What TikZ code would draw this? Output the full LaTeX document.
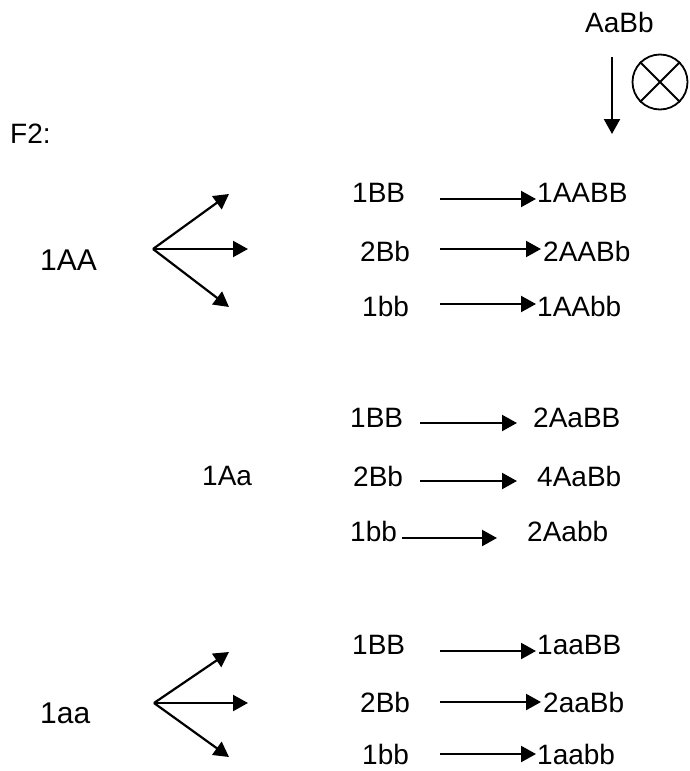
\documentclass[tikz,border=0pt]{standalone}
\usepackage{fontspec}
\setmainfont{Liberation Sans}
\usetikzlibrary{arrows.meta}
\begin{document}
\begin{tikzpicture}[x=1pt,y=-1pt,
  lbl/.style={inner sep=0pt,anchor=west,font=\fontsize{28}{32}\selectfont},
  thinlbl/.style={inner sep=0pt,anchor=base west,font=\fontsize{30}{34}\selectfont},
  arr/.style={line width=2.2pt,-{Triangle[length=15pt,width=16pt]}}]
\useasboundingbox (0,0) rectangle (689,771);

% header
\node[lbl] (aabb) at (585,22.5) {AaBb};
\coordinate (vtop) at (612,57);
\coordinate (vbot) at (612,134);
\draw[arr] (vtop) -- (vbot);
\node[circle,draw,line width=1.8pt,minimum size=55pt,inner sep=0pt] (cross) at (660,82) {};
\draw[line width=1.8pt] (cross.north west) -- (cross.south east)
  (cross.north east) -- (cross.south west);
\node[lbl] (f2) at (10,134) {F2:};

% ---- 1AA ----
\node[thinlbl] (AA) at (40,270) {1AA};
\coordinate (o1) at (153,249);
\coordinate (o1u) at (229,194);
\coordinate (o1m) at (248,249);
\coordinate (o1d) at (229,307);
\draw[arr] (o1) -- (o1u);
\draw[arr] (o1) -- (o1m);
\draw[arr] (o1) -- (o1d);

\node[lbl] (a1) at (352,192.5) {1BB};
\node[lbl] (a2) at (360,251) {2Bb};
\node[lbl] (a3) at (362,306) {1bb};
\node[lbl] (b1) at (537,192.5) {1AABB};
\node[lbl] (b2) at (543,251) {2AABb};
\node[lbl] (b3) at (537,306) {1AAbb};
\coordinate (as1) at (440,199); \coordinate (ae1) at (536,199);
\coordinate (as2) at (440,249); \coordinate (ae2) at (541,249);
\coordinate (as3) at (440,304); \coordinate (ae3) at (536,304);
\draw[arr] (as1) -- (ae1);
\draw[arr] (as2) -- (ae2);
\draw[arr] (as3) -- (ae3);

% ---- 1Aa ----
\node[lbl] (Aa) at (202,476) {1Aa};
\node[lbl] (c1) at (350,418) {1BB};
\node[lbl] (c2) at (353,476) {2Bb};
\node[lbl] (c3) at (350,531) {1bb};
\node[lbl] (d1) at (533,418) {2AaBB};
\node[lbl] (d2) at (537,476) {4AaBb};
\node[lbl] (d3) at (527,531) {2Aabb};
\coordinate (cs1) at (420,423); \coordinate (ce1) at (517,423);
\coordinate (cs2) at (420,481); \coordinate (ce2) at (517,481);
\coordinate (cs3) at (402,538); \coordinate (ce3) at (497,538);
\draw[arr] (cs1) -- (ce1);
\draw[arr] (cs2) -- (ce2);
\draw[arr] (cs3) -- (ce3);

% ---- 1aa ----
\node[thinlbl] (aa) at (40,723) {1aa};
\coordinate (o3) at (154,703);
\coordinate (o3u) at (229,652);
\coordinate (o3m) at (248,703);
\coordinate (o3d) at (229,757);
\draw[arr] (o3) -- (o3u);
\draw[arr] (o3) -- (o3m);
\draw[arr] (o3) -- (o3d);

\node[lbl] (e1) at (352,644.5) {1BB};
\node[lbl] (e2) at (360,702) {2Bb};
\node[lbl] (e3) at (362,754) {1bb};
\node[lbl] (f1) at (537,644.5) {1aaBB};
\node[lbl] (f2b) at (543,702) {2aaBb};
\node[lbl] (f3) at (537,754) {1aabb};
\coordinate (es1) at (440,651); \coordinate (ee1) at (536,651);
\coordinate (es2) at (440,702); \coordinate (ee2) at (541,702);
\coordinate (es3) at (440,754); \coordinate (ee3) at (536,754);
\draw[arr] (es1) -- (ee1);
\draw[arr] (es2) -- (ee2);
\draw[arr] (es3) -- (ee3);
\end{tikzpicture}
\end{document}
